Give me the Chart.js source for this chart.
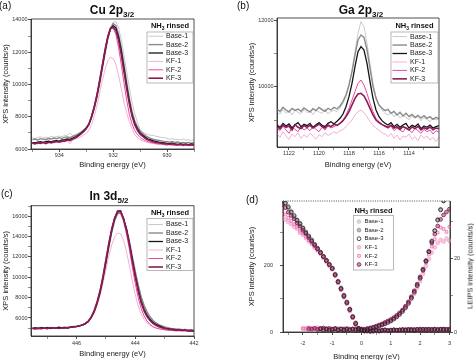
<!DOCTYPE html>
<html>
<head>
<meta charset="utf-8">
<title>NH3 rinsed - XPS / LEIPS</title>
<script src="https://cdn.jsdelivr.net/npm/chart.js@4.4.1/dist/chart.umd.min.js"></script>
<style>
  body { margin: 0; width: 474px; height: 360px; overflow: hidden; background: #fff; position: relative;
         font-family: "Liberation Sans", Arial, Helvetica, sans-serif; color: #111; }
  .panel { position: absolute; }
  .tag { position: absolute; font-size: 10px; line-height: 12px; }
  .head { position: absolute; font-size: 12px; font-weight: bold; line-height: 14px; white-space: nowrap; transform: translateX(-50%); }
  .head sub { font-size: 8px; vertical-align: -3px; line-height: 0; }
  .side { position: absolute; font-size: 7.5px; white-space: nowrap; color: #222; transform: translate(-50%, -50%) rotate(-90deg); }
</style>
</head>
<body>
<div class="panel" style="left:0;top:0;width:237px;height:178px"><canvas id="cu"></canvas></div>
<div class="panel" style="left:237px;top:0;width:237px;height:178px"><canvas id="ga"></canvas></div>
<div class="panel" style="left:0;top:180px;width:237px;height:180px"><canvas id="in"></canvas></div>
<div class="panel" style="left:237px;top:180px;width:237px;height:182px"><canvas id="vb"></canvas></div>

<div class="tag" style="left:-1px;top:0px">(a)</div>
<div class="tag" style="left:237px;top:0px">(b)</div>
<div class="tag" style="left:1px;top:188px">(c)</div>
<div class="tag" style="left:246px;top:194px">(d)</div>
<div class="head" style="left:112px;top:3px">Cu 2p<sub>3/2</sub></div>
<div class="head" style="left:361px;top:3px">Ga 2p<sub>3/2</sub></div>
<div class="head" style="left:109px;top:189px">In 3d<sub>5/2</sub></div>
<div class="side" style="left:470px;top:266px">LEIPS intensity (counts/s)</div>

<script>
// sample names (same for every panel)
const names = ['Base-1', 'Base-2', 'Base-3', 'KF-1', 'KF-2', 'KF-3'];

// (a) Cu 2p3/2
const cuEnergy = [935.0,934.9,934.8,934.7,934.6,934.5,934.4,934.3,934.2,934.1,
  934.0,933.9,933.8,933.7,933.6,933.5,933.4,933.3,933.2,933.1,
  933.0,932.9,932.8,932.7,932.6,932.5,932.4,932.3,932.2,932.1,
  932.0,931.9,931.8,931.7,931.6,931.5,931.4,931.3,931.2,931.1,
  931.0,930.9,930.8,930.7,930.6,930.5,930.4,930.3,930.2,930.1,
  930.0,929.9,929.8,929.7,929.6,929.5,929.4,929.3,929.2,929.1,929.0];
const cuBase1 = [6700,6650,6720,6760,6680,6740,6700,6780,6730,6760,
  6800,6770,6830,6860,6990,6820,6900,6960,7050,7180,
  7330,7530,7900,8420,9100,9900,10850,11800,12700,13400,
  13850,13900,13500,12800,11850,10800,9800,8900,8200,7650,
  7200,7050,6950,6890,6850,6840,6780,6760,6700,6720,
  6650,6600,6640,6580,6600,6560,6620,6540,6580,6520,6560];
const cuBase2 = [6580,6620,6560,6640,6600,6590,6650,6620,6680,6640,
  6700,6660,6720,6750,6700,6780,6850,6920,7030,7170,
  7340,7580,8050,8620,9320,10150,11080,12020,12880,13480,
  13780,13650,13100,12280,11250,10150,9150,8320,7750,7380,
  7120,6960,6830,6730,6660,6600,6560,6530,6500,6470,
  6450,6420,6460,6400,6430,6380,6410,6370,6400,6360,6390];
const cuBase3 = [6400,6380,6430,6450,6410,6460,6480,6440,6500,6520,
  6490,6560,6580,6620,6600,6680,6760,6850,6980,7120,
  7290,7520,8000,8580,9300,10180,11100,12050,12900,13450,
  13650,13500,12950,12100,11050,9950,8950,8150,7600,7250,
  7000,6850,6720,6620,6560,6500,6460,6420,6400,6380,
  6350,6330,6360,6310,6290,6320,6280,6300,6260,6310,6280];
const cuKF1 = [6380,6340,6420,6400,6360,6430,6390,6450,6420,6470,
  6440,6500,6520,6480,6330,6560,6620,6680,6760,6850,
  6960,7170,7520,8060,8700,9450,10250,10950,11450,11700,
  11600,11250,10600,9750,8900,8250,7700,7250,6900,6700,
  6580,6500,6440,6400,6360,6340,6300,6320,6280,6260,
  6240,6280,6220,6250,6210,6260,6230,6200,6250,6220,6240];
const cuKF2 = [6350,6400,6320,6380,6420,6360,6400,6450,6380,6440,
  6470,6430,6500,6540,6480,6600,6680,6780,6900,7060,
  7250,7550,8080,8700,9450,10350,11300,12250,13050,13550,
  13500,13100,12300,11250,10100,9050,8150,7550,7150,6900,
  6720,6600,6520,6450,6400,6370,6330,6300,6320,6270,
  6250,6290,6230,6260,6220,6240,6200,6250,6210,6230,6260];
const cuKF3 = [6360,6320,6380,6350,6400,6340,6420,6380,6430,6460,
  6420,6500,6480,6560,6540,6620,6700,6800,6930,7080,
  7260,7520,8020,8620,9350,10250,11200,12150,12950,13450,
  13550,13350,12750,11850,10800,9750,8800,8050,7500,7150,
  6920,6780,6650,6560,6500,6440,6400,6380,6350,6330,
  6310,6290,6320,6270,6260,6300,6250,6280,6240,6270,6250];
const cuTicksX = [934, 932, 930];
const cuMinorX = [935, 933, 931, 929];
const cuTicksY = [6000, 8000, 10000, 12000, 14000];
const cuMinorY = [7000, 9000, 11000, 13000];

// (b) Ga 2p3/2
const gaEnergy = [1122.8,1122.6,1122.4,1122.2,1122.0,1121.8,1121.6,1121.4,1121.2,1121.0,
  1120.8,1120.6,1120.4,1120.2,1120.0,1119.8,1119.6,1119.4,1119.2,1119.0,
  1118.8,1118.6,1118.4,1118.2,1118.0,1117.8,1117.6,1117.4,1117.2,1117.0,
  1116.8,1116.6,1116.4,1116.2,1116.0,1115.8,1115.6,1115.4,1115.2,1115.0,
  1114.8,1114.6,1114.4,1114.2,1114.0,1113.8,1113.6,1113.4,1113.2,1113.0,
  1112.8,1112.6,1112.4,1112.2,1112.0];
const gaBase1 = [9250,9180,9320,9200,9280,9150,9300,9230,9190,9310,
  9220,9270,9160,9300,9240,9200,9330,9180,9260,9290,
  9250,9350,9500,9700,10050,10500,11050,11600,11950,11800,
  11300,10700,10100,9700,9450,9300,9200,9150,9220,9100,
  9180,9060,9140,9080,9010,9120,9050,9100,8980,9070,
  9020,8950,9060,9000,9040];
const gaBase2 = [9320,9260,9380,9300,9240,9350,9290,9330,9260,9360,
  9300,9240,9340,9280,9380,9310,9260,9350,9300,9380,
  9330,9420,9560,9750,10050,10450,10950,11400,11550,11480,
  11100,10550,10000,9650,9450,9350,9280,9320,9200,9260,
  9150,9230,9120,9200,9100,9170,9080,9140,9060,9130,
  9050,9100,9020,9080,9040];
const gaBase3 = [8850,8780,8900,8820,8880,8760,8860,8920,8800,8870,
  8830,8900,8780,8860,8920,8840,8800,8900,8950,8880,
  8960,9050,9180,9400,9700,10100,10600,11050,11200,11100,
  10700,10150,9650,9300,9100,8980,8900,8850,8920,8800,
  8870,8780,8850,8900,8760,8840,8800,8880,8740,8820,
  8780,8850,8760,8800,8830];
const gaKF1 = [8600,8480,8650,8520,8420,8580,8500,8620,8450,8550,
  8480,8600,8520,8430,8560,8500,8620,8540,8580,8650,
  8600,8680,8720,8800,8900,9000,9150,9250,9300,9220,
  9100,8950,8850,8750,8700,8620,8580,8500,8600,8450,
  8550,8400,8520,8480,8580,8420,8500,8380,8550,8460,
  8520,8400,8480,8350,8500];
const gaKF2 = [8750,8680,8820,8700,8600,8780,8720,8650,8800,8700,
  8760,8680,8800,8720,8650,8780,8700,8820,8760,8800,
  8850,8900,9000,9150,9350,9600,9850,10100,10200,10050,
  9800,9500,9250,9050,8950,8880,8800,8750,8820,8680,
  8760,8700,8640,8780,8700,8620,8750,8680,8600,8720,
  8650,8700,8580,8680,8640];
const gaKF3 = [8800,8740,8850,8780,8820,8700,8860,8780,8740,8830,
  8780,8840,8760,8820,8880,8800,8760,8850,8800,8870,
  8840,8900,8980,9100,9250,9450,9650,9780,9800,9720,
  9550,9350,9150,9000,8920,8860,8820,8780,8840,8760,
  8800,8720,8800,8760,8700,8790,8740,8810,8700,8770,
  8730,8790,8710,8760,8740];
const gaTicksX = [1122, 1120, 1118, 1116, 1114];
const gaMinorX = [1121, 1119, 1117, 1115, 1113];
const gaTicksY = [10000, 12000];
const gaMinorY = [9000, 11000];

// (c) In 3d5/2
const inEnergy = [447.5,447.4,447.3,447.2,447.1,447.0,446.9,446.8,446.7,446.6,
  446.5,446.4,446.3,446.2,446.1,446.0,445.9,445.8,445.7,445.6,
  445.5,445.4,445.3,445.2,445.1,445.0,444.9,444.8,444.7,444.6,
  444.5,444.4,444.3,444.2,444.1,444.0,443.9,443.8,443.7,443.6,
  443.5,443.4,443.3,443.2,443.1,443.0,442.9,442.8,442.7,442.6,
  442.5,442.4,442.3,442.2,442.1,442.0];
const inBase1 = [5050,5000,5100,5030,5080,5010,5120,5060,5040,5110,
  5070,5130,5060,5150,5180,5200,5260,5320,5450,5640,
  6000,6520,7300,8300,9650,11250,12850,14350,15500,16200,
  16300,15700,14800,13500,12000,10550,9200,8050,7200,6550,
  6080,5750,5520,5350,5230,5130,5060,5000,4960,4900,
  4920,4860,4880,4820,4850,4800];
const inBase2 = [4990,5040,4980,5060,5010,5070,5000,5050,5020,5090,
  5040,5100,5050,5120,5160,5190,5240,5310,5440,5640,
  6020,6560,7350,8380,9750,11350,12950,14450,15600,16250,
  16350,15750,14850,13550,12050,10600,9250,8100,7250,6600,
  6120,5780,5540,5360,5220,5120,5040,4980,4940,4890,
  4910,4850,4870,4810,4830,4780];
const inBase3 = [4980,5020,4950,5040,4990,5060,4970,5030,5000,5080,
  5020,5060,5010,5090,5120,5150,5220,5300,5440,5650,
  6050,6620,7440,8480,9870,11500,13120,14630,15800,16500,
  16550,15800,14740,13350,11730,10220,8830,7670,6860,6280,
  5870,5580,5380,5250,5120,5000,4950,4900,4870,4820,
  4850,4780,4800,4740,4770,4720];
const inKF1 = [4950,4900,4980,4920,5000,4940,4990,4960,5020,4980,
  5030,5000,5060,5090,5130,5160,5220,5300,5420,5620,
  5980,6500,7250,8200,9400,10750,12050,13200,14000,14350,
  14300,13650,12550,11150,9650,8300,7200,6400,5850,5500,
  5280,5130,5020,4950,4900,4860,4820,4800,4770,4750,
  4760,4720,4740,4700,4720,4690];
const inKF2 = [4960,5010,4940,5000,4970,5030,4980,5010,4950,5040,
  5000,5050,5020,5080,5110,5150,5230,5330,5480,5720,
  6150,6780,7650,8750,10200,11850,13450,14850,15900,16400,
  16300,15500,14300,12750,11000,9400,8000,6950,6200,5700,
  5380,5150,5020,4940,4880,4840,4800,4780,4760,4730,
  4750,4710,4730,4690,4710,4680];
const inKF3 = [4970,4930,5000,4950,5010,4960,5040,4990,5020,4970,
  5040,5010,5070,5100,5140,5170,5240,5320,5460,5680,
  6100,6700,7550,8650,10050,11700,13300,14750,15850,16500,
  16480,15750,14650,13250,11600,10050,8650,7500,6700,6150,
  5750,5470,5280,5150,5050,4970,4920,4880,4860,4820,
  4840,4790,4810,4760,4790,4750];
const inTicksX = [446, 444, 442];
const inMinorX = [447, 445, 443];
const inTicksY = [6000, 8000, 10000, 12000, 14000, 16000];
const inMinorY = [5000, 7000, 9000, 11000, 13000, 15000, 17000];

// (d) valence band XPS (left axis) and LEIPS (right axis)
const vbEnergy = [-2.7,-2.6,-2.5,-2.4,-2.3,-2.2,-2.1,-2.0,-1.9,-1.8,
  -1.7,-1.6,-1.5,-1.4,-1.3,-1.2,-1.1,-1.0,-0.9,-0.8,
  -0.7,-0.6,-0.5,-0.4,-0.3,-0.2,-0.1,0.0,0.1,0.2,
  0.3,0.4,0.5,0.6,0.7,0.8,0.9,1.0,1.1,1.2,
  1.3,1.4,1.5,1.6,1.7,1.8,1.9,2.0,2.1,2.2,
  2.3,2.4,2.5,2.6,2.7,2.8,2.9,3.0];
const xpsBase1 = [405,392,380,366,350,340,325,316,302,288,
  278,262,255,238,230,214,206,190,176,150,
  135,108,92,66,48,24,12,6,4,2,
  3,5,4,6,3,5,4,6,5,7,
  5,6,8,6,7,8,6,8,7,9,
  7,8,6,8,9,7,8,6];
const xpsBase2 = [398,388,374,364,348,336,329,312,303,287,
  279,263,250,242,226,218,202,194,172,154,
  130,112,88,70,44,28,10,4,5,3,
  4,2,5,4,6,3,5,5,7,4,
  6,5,7,8,5,7,6,9,6,8,
  8,6,9,7,6,8,7,9];
const xpsBase3 = [402,390,378,362,352,338,327,314,300,290,
  276,265,252,240,228,216,204,192,174,152,
  132,110,90,68,46,26,11,5,3,4,
  2,3,5,3,4,6,4,5,6,5,
  6,7,6,7,6,7,8,7,8,7,
  8,7,8,7,8,7,8,7];
const xpsKF1 = [345,340,332,326,318,312,300,294,284,274,
  266,254,246,236,224,212,200,190,172,150,
  128,106,86,64,44,24,10,4,3,5,
  2,4,3,5,4,6,3,5,6,4,
  6,7,5,8,6,7,8,6,7,8,
  6,8,7,9,7,8,6,8];
const xpsKF2 = [365,355,345,336,326,318,306,298,288,278,
  268,258,248,238,226,214,203,190,170,148,
  128,104,86,64,42,22,9,5,4,2,
  3,5,4,3,6,4,5,7,4,6,
  7,5,6,8,7,6,8,7,9,7,
  8,7,6,8,9,7,8,7];
const xpsKF3 = [385,376,362,352,342,330,320,308,298,285,
  274,262,252,240,228,216,204,192,172,152,
  130,108,88,68,46,24,10,5,3,4,
  3,4,5,3,5,6,4,5,6,5,
  6,7,6,7,8,6,7,8,7,8,
  7,8,8,7,8,9,7,8];
const cbEnergy = [-2.0,-1.9,-1.8,-1.7,-1.6,-1.5,-1.4,-1.3,-1.2,-1.1,
  -1.0,-0.9,-0.8,-0.7,-0.6,-0.5,-0.4,-0.3,-0.2,-0.1,
  0.0,0.1,0.2,0.3,0.4,0.5,0.6,0.7,0.8,0.9,
  1.0,1.1,1.2,1.3,1.4,1.5,1.6,1.7,1.8,1.9,
  2.0,2.1,2.2,2.3,2.4,2.5,2.6,2.7,2.8,2.9,3.0];
const leipsBase1 = [null,null,null,null,null,0.8,0.6,0.9,0.7,0.5,
  0.8,0.6,0.9,0.7,0.6,0.8,0.5,0.7,0.9,0.6,
  0.8,0.7,0.9,1.1,1.3,1.5,1.8,2.1,2.4,2.8,
  3.2,3.7,4.3,5.0,5.8,6.8,8.0,9.4,11.0,12.8,
  14.8,17.0,19.4,22.0,24.8,27.6,30.6,33.4,35.8,37.8,39.2];
const leipsBase2 = [null,null,null,null,null,null,0.7,0.8,0.5,0.9,
  0.6,0.7,0.8,0.5,0.9,0.6,0.8,0.7,0.6,0.8,
  0.6,0.8,0.7,1.0,1.2,1.4,1.7,2.0,2.3,2.7,
  3.1,3.6,4.2,4.9,5.7,6.7,7.9,9.3,10.9,12.7,
  14.7,16.9,19.3,21.9,24.7,27.6,30.5,33.3,35.7,37.6,39.0];
const leipsBase3 = [null,null,null,null,null,null,0.9,0.6,0.8,0.5,
  0.7,0.9,0.6,0.8,0.5,0.7,0.6,0.8,0.5,0.6,
  0.7,0.5,0.8,0.9,1.1,1.3,1.6,1.9,2.2,2.6,
  3.0,3.5,4.1,4.8,5.6,6.6,7.8,9.2,10.8,12.6,
  14.6,16.8,19.2,21.8,24.6,27.5,30.4,33.2,35.6,37.5,39.0];
const leipsKF1 = [0.9,1.1,0.7,1.0,0.8,1.2,0.9,0.7,1.0,0.8,
  0.9,0.7,1.0,0.8,0.6,0.9,0.7,0.8,0.6,0.7,
  0.8,0.6,0.9,1.0,1.2,1.5,1.7,2.0,2.4,2.8,
  3.1,3.6,4.1,4.8,5.6,6.5,7.6,8.9,10.4,12.0,
  13.8,15.8,17.9,19.8,21.6,23.0,24.2,25.0,24.6,25.4,24.8];
const leipsKF2 = [1.0,0.8,1.2,0.9,1.1,0.7,1.0,0.8,0.9,1.1,
  0.8,1.0,0.7,0.9,0.8,0.6,0.9,0.7,0.8,0.6,
  0.7,0.9,0.8,1.0,1.3,1.5,1.8,2.1,2.5,2.9,
  3.3,3.8,4.4,5.1,5.9,6.9,8.0,9.4,11.0,12.7,
  14.6,16.6,18.8,21.0,23.2,25.2,27.0,28.4,28.0,27.2,28.6];
const leipsKF3 = [null,null,0.9,0.8,1.0,0.7,0.9,1.1,0.8,0.9,
  0.7,0.9,0.6,0.8,0.7,0.9,0.6,0.8,0.7,0.9,
  0.8,0.7,0.9,1.1,1.3,1.6,1.9,2.2,2.6,3.0,
  3.4,3.9,4.5,5.2,6.0,7.0,8.2,9.6,11.2,13.0,
  15.0,17.1,19.4,21.8,24.2,26.6,28.8,30.6,31.8,32.6,33.4];
const vbTicksX = [-2, -1, 0, 1, 2, 3];
const vbMinorX = [-2.5, -1.5, -0.5, 0.5, 1.5, 2.5];
const xpsTicksY = [0, 200];
const xpsMinorY = [100, 300];
const leipsTicksY = [0, 20];
const leipsMinorY = [10, 30];

// ---- styles ----
const lineColors = ['#bdbdbd', '#8a8a8a', '#151515', '#f6a6cf', '#e84a9e', '#8c1a56'];
const lineWidths = [0.8, 1.4, 1.3, 0.9, 1.0, 1.6];
const drawOrder = [6, 5, 2, 4, 3, 1];
const markerFill = ['#dadada', '#bcbcbc', 'rgba(255,255,255,0)', '#f9c6df', 'rgba(244,140,192,0.25)', 'rgba(160,50,110,0.55)'];
const markerEdge = ['#c8c8c8', '#8e8e8e', '#262626', '#f3abd0', '#ee74b1', '#8a1f57'];
const markerShape = ['circle', 'circle', 'circle', 'circle', 'rect', 'circle'];
const pointOrder = [6, 5, 1, 4, 3, 2];

Chart.defaults.font.family = '"Liberation Sans", Arial, Helvetica, sans-serif';
Chart.defaults.color = '#222';

// box around the plot, top edge dotted for panel (d)
const frame = {
  id: 'frame',
  afterDatasetsDraw(chart, args, o) {
    const { left, top, right, bottom } = chart.chartArea;
    const ctx = chart.ctx;
    ctx.save();
    ctx.strokeStyle = '#222';
    ctx.lineWidth = 0.8;
    ctx.beginPath();
    ctx.moveTo(left, top); ctx.lineTo(left, bottom); ctx.lineTo(right, bottom); ctx.lineTo(right, top);
    ctx.stroke();
    if (o && o.dashTop) ctx.setLineDash([1, 1.3]);
    ctx.beginPath(); ctx.moveTo(left, top); ctx.lineTo(right, top); ctx.stroke();
    ctx.restore();
  }
};

// Origin-style legend box inside the plot
const boxLegend = {
  id: 'boxLegend',
  afterDraw(chart, args, o) {
    if (!o || o.x == null) return;
    const ctx = chart.ctx;
    const fam = Chart.defaults.font.family;
    ctx.save();
    ctx.textBaseline = 'middle';
    ctx.textAlign = 'left';
    ctx.fillStyle = '#111';
    const big = 'bold ' + o.hs + 'px ' + fam;
    const small = 'bold ' + (o.hs * 0.65).toFixed(1) + 'px ' + fam;
    ctx.font = big;
    const wNH = ctx.measureText('NH').width, wR = ctx.measureText(' rinsed').width;
    ctx.font = small;
    const w3 = ctx.measureText('3').width;
    const hx = o.x + o.w / 2 - (wNH + w3 + wR) / 2;
    ctx.font = big; ctx.fillText('NH', hx, o.hy);
    ctx.font = small; ctx.fillText('3', hx + wNH, o.hy + o.hs * 0.3);
    ctx.font = big; ctx.fillText(' rinsed', hx + wNH + w3, o.hy);

    ctx.strokeStyle = '#9a9a9a';
    ctx.lineWidth = 0.7;
    ctx.strokeRect(o.x, o.y, o.w, o.h);

    for (let i = 0; i < names.length; i++) {
      const ds = chart.data.datasets[i];
      const y = o.r0 + i * o.dy;
      if (o.marker) {
        ctx.fillStyle = ds.backgroundColor;
        ctx.strokeStyle = ds.borderColor;
        ctx.lineWidth = ds.borderWidth;
        Chart.helpers.drawPoint(ctx, { pointStyle: ds.pointStyle, radius: ds.pointRadius, borderWidth: ds.borderWidth, rotation: 0 }, o.x + o.mx, y);
      } else {
        ctx.strokeStyle = ds.borderColor;
        ctx.lineWidth = ds.borderWidth;
        ctx.beginPath(); ctx.moveTo(o.x + o.l0, y); ctx.lineTo(o.x + o.l1, y); ctx.stroke();
      }
      ctx.fillStyle = '#222';
      ctx.font = o.fs + 'px ' + fam;
      ctx.fillText(ds.label, o.x + o.tx, y);
    }
    ctx.restore();
  }
};
Chart.register(frame, boxLegend);

function pts(xs, ys) {
  const out = [];
  xs.forEach((x, i) => { if (ys[i] != null) out.push({ x: x, y: ys[i] }); });
  return out;
}

// major ticks carry labels, minor ticks are bare marks
function fixedTicks(major, minor) {
  return s => { s.ticks = major.concat(minor).sort((a, b) => a - b).map(v => ({ value: v })); };
}
const tickLabel = major => v => (major.includes(v) ? String(v) : '');
const tickMark = major => ctx => (ctx.tick && major.includes(ctx.tick.value) ? 0.8 : 0.5);

function axisX(min, max, major, minor, height, titlePad, labelPad, reverse) {
  return {
    type: 'linear', min: min, max: max, reverse: reverse,
    afterBuildTicks: fixedTicks(major, minor),
    afterFit: s => { s.height = height; },
    grid: { drawOnChartArea: false, tickLength: 3, color: '#222', lineWidth: 0.8, tickWidth: tickMark(major) },
    border: { color: '#222', width: 0.8 },
    ticks: { font: { size: 5.5 }, color: '#333', padding: labelPad, maxRotation: 0, autoSkip: false, callback: tickLabel(major) },
    title: { display: true, text: 'Binding energy (eV)', font: { size: 7.5 }, color: '#222', padding: { top: 0, bottom: titlePad } }
  };
}

function axisY(min, max, major, minor, width, titlePad, labelPad, position, titleText) {
  return {
    type: 'linear', position: position, min: min, max: max,
    afterBuildTicks: fixedTicks(major, minor),
    afterFit: s => { s.width = width; },
    grid: { drawOnChartArea: false, tickLength: 3, color: '#222', lineWidth: 0.8, tickWidth: tickMark(major) },
    border: { color: '#222', width: 0.8 },
    ticks: { font: { size: 5.5 }, color: '#333', padding: labelPad, autoSkip: false, callback: tickLabel(major) },
    title: { display: !!titleText, text: titleText || '', font: { size: 7.5 }, color: '#222', padding: { top: titlePad, bottom: 0 } }
  };
}

function lineSets(xs, series) {
  return series.map((ys, i) => ({
    label: names[i],
    data: pts(xs, ys),
    borderColor: lineColors[i],
    borderWidth: lineWidths[i],
    pointRadius: 0,
    tension: 0,
    fill: false,
    order: drawOrder[i]
  }));
}

function pointSets(xs, series, axis) {
  return series.map((ys, i) => ({
    type: 'scatter',
    label: names[i],
    yAxisID: axis,
    data: pts(xs, ys),
    backgroundColor: markerFill[i],
    borderColor: markerEdge[i],
    borderWidth: 0.8,
    pointRadius: 1.9,
    pointStyle: markerShape[i],
    clip: { left: 1, top: 0, right: 1, bottom: 3 },
    order: pointOrder[i]
  }));
}

const baseOptions = (padding, legendOpts, scales, extra) => ({
  responsive: true,
  maintainAspectRatio: false,
  animation: false,
  events: [],
  layout: { padding: padding },
  plugins: Object.assign({ legend: { display: false }, tooltip: { enabled: false }, boxLegend: legendOpts }, extra || {}),
  scales: scales
});

const yTitle = 'XPS intensity (counts/s)';

new Chart(document.getElementById('cu'), {
  type: 'line',
  data: { datasets: lineSets(cuEnergy, [cuBase1, cuBase2, cuBase3, cuKF1, cuKF2, cuKF3]) },
  options: baseOptions({ top: 19, right: 43, left: 0, bottom: 0 },
    { x: 147, y: 32, w: 46, h: 51, hy: 26, hs: 7.5, fs: 7, r0: 36.2, dy: 8.4, l0: 1.5, l1: 16, tx: 19 },
    {
      x: axisX(929, 935.05, cuTicksX, cuMinorX, 29, 8.5, 0.5, true),
      y: axisY(6000, 14060, cuTicksY, cuMinorY, 31, 1.5, 0.5, 'left', yTitle)
    })
});

new Chart(document.getElementById('ga'), {
  type: 'line',
  data: { datasets: lineSets(gaEnergy, [gaBase1, gaBase2, gaBase3, gaKF1, gaKF2, gaKF3]) },
  options: baseOptions({ top: 18, right: 35, left: 0, bottom: 0 },
    { x: 154, y: 32, w: 47, h: 51, hy: 26, hs: 7.5, fs: 7, r0: 36.6, dy: 8.45, l0: 1.5, l1: 16, tx: 19 },
    {
      x: axisX(1112.0, 1122.8, gaTicksX, gaMinorX, 31, 8.5, 0.5, true),
      y: axisY(8190, 12060, gaTicksY, gaMinorY, 40, 10.5, 0.5, 'left', yTitle)
    })
});

new Chart(document.getElementById('in'), {
  type: 'line',
  data: { datasets: lineSets(inEnergy, [inBase1, inBase2, inBase3, inKF1, inKF2, inKF3]) },
  options: baseOptions({ top: 25.7, right: 43, left: 0, bottom: 0 },
    { x: 147, y: 38.5, w: 46, h: 52, hy: 33, hs: 7.5, fs: 7, r0: 44.5, dy: 8.5, l0: 1.5, l1: 16, tx: 19 },
    {
      x: axisX(442, 447.55, inTicksX, inMinorX, 24, 1.5, 1.5, true),
      y: axisY(4230, 17040, inTicksY, inMinorY, 31, 1.5, 0.5, 'left', yTitle)
    })
});

new Chart(document.getElementById('vb'), {
  type: 'scatter',
  data: {
    datasets: pointSets(vbEnergy, [xpsBase1, xpsBase2, xpsBase3, xpsKF1, xpsKF2, xpsKF3], 'y')
      .concat(pointSets(cbEnergy, [leipsBase1, leipsBase2, leipsBase3, leipsKF1, leipsKF2, leipsKF3], 'y2'))
  },
  options: baseOptions({ top: 21, right: 0, left: 0, bottom: 0 },
    { x: 116.5, y: 35.5, w: 40, h: 54.5, hy: 30.5, hs: 7.5, fs: 6, r0: 41.5, dy: 8.6, mx: 5.5, tx: 11, marker: true },
    {
      x: axisX(-2.68, 3.02, vbTicksX, vbMinorX, 30, 0.8, 5, false),
      y: axisY(0, 396, xpsTicksY, xpsMinorY, 46, 10.5, 7, 'left', yTitle),
      y2: axisY(0, 35.6, leipsTicksY, leipsMinorY, 24, 0, 1, 'right', '')
    },
    { frame: { dashTop: true } })
});
</script>
</body>
</html>
